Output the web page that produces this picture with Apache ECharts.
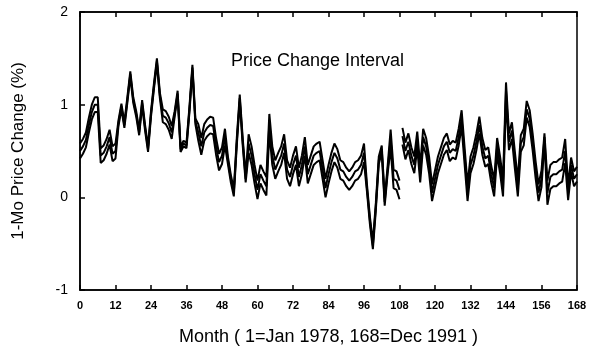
<!DOCTYPE html>
<html>
<head>
<meta charset="utf-8">
<script src="https://cdn.jsdelivr.net/npm/echarts@6/dist/echarts.min.js"></script>
<style>
  html, body { margin: 0; padding: 0; background: #fff; }
  #chart { width: 599px; height: 354px; }
</style>
</head>
<body>
<div id="chart"></div>
<script>
// month index 0..168, line breaks after month 108
const gapAfter = 108

const upper = [
  0.58, 0.63, 0.70, 0.86, 1.00, 1.08, 1.08, 0.53, 0.56, 0.63, 0.73, 0.55, 0.58,
  0.83, 1.01, 0.81, 1.08, 1.36, 1.08, 0.93, 0.73, 1.05, 0.78, 0.55, 0.93, 1.23,
  1.50, 1.13, 0.95, 0.93, 0.87, 0.77, 0.93, 1.15, 0.55, 0.61, 0.59, 0.98, 1.43,
  0.85, 0.79, 0.64, 0.79, 0.84, 0.87, 0.86, 0.64, 0.47, 0.54, 0.74, 0.44, 0.24,
  0.09, 0.64, 1.11, 0.64, 0.24, 0.68, 0.55, 0.35, 0.18, 0.35, 0.28, 0.22, 0.90,
  0.55, 0.40, 0.48, 0.55, 0.68, 0.40, 0.32, 0.45, 0.55, 0.32, 0.45, 0.65, 0.35,
  0.45, 0.55, 0.58, 0.60, 0.40, 0.20, 0.35, 0.48, 0.58, 0.52, 0.40, 0.38, 0.32,
  0.28, 0.32, 0.38, 0.40, 0.45, 0.58, 0.14, -0.21, -0.48, -0.06, 0.44, 0.56, -0.01,
  0.34, 0.73, 0.30, 0.28, 0.18, 0.75, 0.59, 0.69, 0.54, 0.44, 0.71, 0.34, 0.74,
  0.64, 0.44, 0.14, 0.29, 0.44, 0.54, 0.64, 0.69, 0.57, 0.61, 0.59, 0.74, 0.94,
  0.54, 0.14, 0.44, 0.54, 0.69, 0.87, 0.64, 0.51, 0.54, 0.34, 0.19, 0.64, 0.44,
  0.19, 1.24, 0.69, 0.81, 0.49, 0.19, 0.67, 0.74, 1.04, 0.94, 0.69, 0.39, 0.14,
  0.29, 0.69, 0.18, 0.35, 0.38, 0.38, 0.41, 0.43, 0.63, 0.13, 0.43, 0.28, 0.33
]

const middle = [
  0.50, 0.55, 0.62, 0.78, 0.92, 1.00, 1.00, 0.45, 0.48, 0.55, 0.65, 0.47, 0.50,
  0.80, 0.98, 0.78, 1.05, 1.33, 1.05, 0.90, 0.70, 1.02, 0.75, 0.52, 0.90, 1.20,
  1.47, 1.10, 0.88, 0.86, 0.80, 0.70, 0.90, 1.12, 0.52, 0.58, 0.56, 0.95, 1.40,
  0.82, 0.70, 0.55, 0.70, 0.75, 0.78, 0.77, 0.55, 0.38, 0.45, 0.65, 0.40, 0.20,
  0.05, 0.60, 1.07, 0.60, 0.20, 0.58, 0.45, 0.25, 0.08, 0.25, 0.18, 0.12, 0.80,
  0.45, 0.30, 0.38, 0.45, 0.58, 0.30, 0.22, 0.35, 0.45, 0.22, 0.35, 0.55, 0.25,
  0.35, 0.45, 0.48, 0.50, 0.30, 0.10, 0.25, 0.38, 0.48, 0.42, 0.30, 0.28, 0.22,
  0.18, 0.22, 0.28, 0.30, 0.35, 0.48, 0.10, -0.25, -0.52, -0.10, 0.40, 0.52, -0.05,
  0.30, 0.63, 0.20, 0.18, 0.08, 0.66, 0.50, 0.60, 0.45, 0.35, 0.62, 0.25, 0.65,
  0.55, 0.35, 0.05, 0.20, 0.35, 0.45, 0.55, 0.60, 0.48, 0.52, 0.50, 0.65, 0.85,
  0.45, 0.05, 0.35, 0.45, 0.60, 0.78, 0.55, 0.42, 0.45, 0.25, 0.10, 0.55, 0.35,
  0.10, 1.15, 0.60, 0.72, 0.40, 0.10, 0.58, 0.65, 0.95, 0.85, 0.60, 0.30, 0.05,
  0.20, 0.65, 0.05, 0.22, 0.25, 0.25, 0.28, 0.30, 0.50, 0.05, 0.35, 0.20, 0.25
]

const lower = [
  0.42, 0.47, 0.54, 0.70, 0.84, 0.92, 0.92, 0.37, 0.40, 0.47, 0.57, 0.39, 0.42,
  0.77, 0.95, 0.75, 1.02, 1.30, 1.02, 0.87, 0.67, 0.99, 0.72, 0.49, 0.87, 1.17,
  1.44, 1.07, 0.81, 0.79, 0.73, 0.63, 0.87, 1.09, 0.49, 0.55, 0.53, 0.92, 1.37,
  0.79, 0.61, 0.46, 0.61, 0.66, 0.69, 0.68, 0.46, 0.29, 0.36, 0.56, 0.36, 0.16,
  0.01, 0.56, 1.03, 0.56, 0.16, 0.48, 0.35, 0.15, -0.02, 0.15, 0.08, 0.02, 0.70,
  0.35, 0.20, 0.28, 0.35, 0.48, 0.20, 0.12, 0.25, 0.35, 0.12, 0.25, 0.45, 0.15,
  0.25, 0.35, 0.38, 0.40, 0.20, 0.00, 0.15, 0.28, 0.38, 0.32, 0.20, 0.18, 0.12,
  0.08, 0.12, 0.18, 0.20, 0.25, 0.38, 0.06, -0.29, -0.56, -0.14, 0.36, 0.48, -0.09,
  0.26, 0.53, 0.10, 0.08, -0.02, 0.57, 0.41, 0.51, 0.36, 0.26, 0.53, 0.16, 0.56,
  0.46, 0.26, -0.04, 0.11, 0.26, 0.36, 0.46, 0.51, 0.39, 0.43, 0.41, 0.56, 0.76,
  0.36, -0.04, 0.26, 0.36, 0.51, 0.69, 0.46, 0.33, 0.36, 0.16, 0.01, 0.46, 0.26,
  0.01, 1.06, 0.51, 0.63, 0.31, 0.01, 0.49, 0.56, 0.86, 0.76, 0.51, 0.21, -0.04,
  0.11, 0.61, -0.08, 0.09, 0.12, 0.12, 0.15, 0.17, 0.37, -0.03, 0.27, 0.12, 0.17
]

const xTicks = { min: 0, max: 168, interval: 12 }
const yTicks = { min: -1, max: 2, interval: 1 }

const FONT = '"Liberation Sans", Arial, sans-serif'

function toPairs(vals) {
  const out = []
  vals.forEach((v, i) => {
    out.push([i, v])
    if (i === gapAfter) out.push([i + 0.5, '-'])
  })
  return out
}

const chart = echarts.init(document.getElementById('chart'))

const lineSeries = (name, vals) => ({
  name,
  type: 'line',
  data: toPairs(vals),
  showSymbol: false,
  connectNulls: false,
  lineStyle: { color: '#000', width: 2 },
})

chart.setOption({
  backgroundColor: '#fff',
  animation: false,
  title: {
    text: 'Price Change Interval',
    left: 226,
    top: 47,
    textStyle: { fontFamily: FONT, fontSize: 18, fontWeight: 'normal', color: '#000' },
  },
  grid: { left: 80, right: 22, top: 12, bottom: 64, show: true, borderColor: '#000', borderWidth: 1.5 },
  xAxis: [
    {
      type: 'value',
      ...xTicks,
      name: 'Month ( 1=Jan 1978, 168=Dec 1991 )',
      nameLocation: 'middle',
      nameGap: 38,
      nameTextStyle: { fontFamily: FONT, fontSize: 18, color: '#000' },
      axisLine: { onZero: false, lineStyle: { color: '#000', width: 1.5 } },
      axisTick: { inside: true, length: 5, lineStyle: { color: '#000', width: 1.5 } },
      axisLabel: { fontFamily: FONT, fontSize: 11, fontWeight: 'bold', color: '#000', margin: 10 },
      splitLine: { show: false },
    },
    {
      type: 'value',
      position: 'top',
      ...xTicks,
      axisLine: { onZero: false, lineStyle: { color: '#000', width: 1.5 } },
      axisTick: { inside: true, length: 5, lineStyle: { color: '#000', width: 1.5 } },
      axisLabel: { show: false },
      splitLine: { show: false },
    },
  ],
  yAxis: [
    {
      type: 'value',
      ...yTicks,
      name: '1-Mo Price Change (%)',
      nameLocation: 'middle',
      nameGap: 53,
      nameTextStyle: { fontFamily: FONT, fontSize: 17, color: '#000' },
      axisLine: { show: true, lineStyle: { color: '#000', width: 1.5 } },
      axisTick: { show: true, inside: true, length: 5, lineStyle: { color: '#000', width: 1.5 } },
      axisLabel: { fontFamily: FONT, fontSize: 14, color: '#000', margin: 12 },
      splitLine: { show: false },
    },
  ],
  series: [
    lineSeries('Upper', upper),
    lineSeries('Middle', middle),
    lineSeries('Lower', lower),
  ],
})
</script>
</body>
</html>
